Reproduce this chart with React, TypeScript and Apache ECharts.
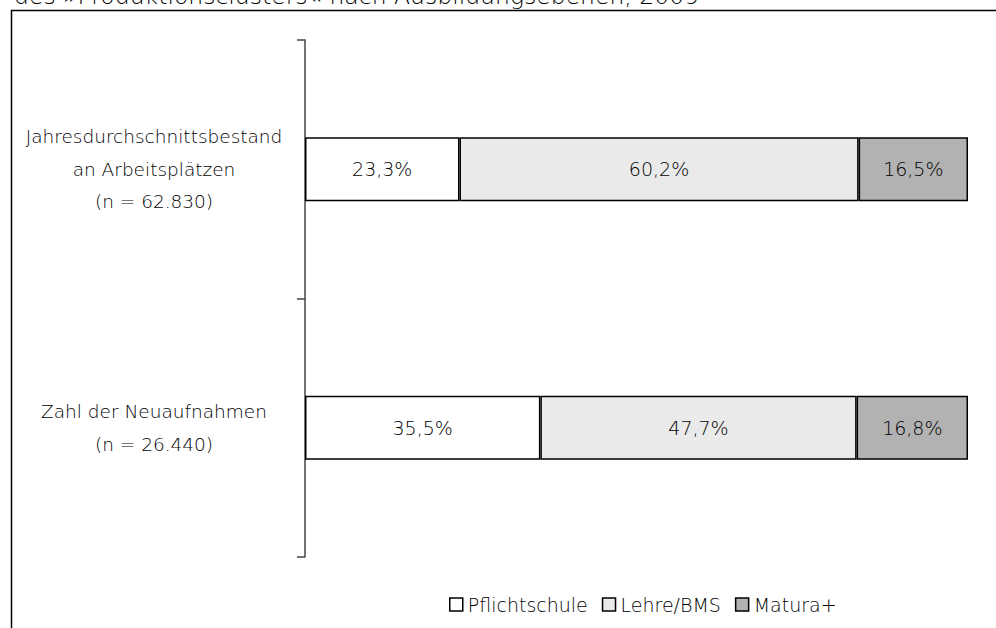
import React, { useEffect, useRef } from "react";
import * as echarts from "echarts";

const categories = [
  "Jahresdurchschnittsbestand\nan Arbeitsplätzen\n(n = 62.830)",
  "Zahl der Neuaufnahmen\n(n = 26.440)",
];
const seriesNames = ["Pflichtschule", "Lehre/BMS", "Matura+"];
const pflichtschule = [23.3, 35.5];
const lehreBms = [60.2, 47.7];
const matura = [16.5, 16.8];
const colors = ["#ffffff", "#eaeaea", "#b2b2b2"];
const titleText = "des »Produktionsclusters« nach Ausbildungsebenen, 2009";

const FONT = "'DejaVu Sans', sans-serif";
const W = 200;
const TXT = "#000";

export default function App() {
  const ref = useRef<HTMLDivElement>(null);
  useEffect(() => {
    if (!ref.current) return;
    const chart = echarts.init(ref.current, undefined, { renderer: "svg" });
    const values = [pflichtschule, lehreBms, matura];
    const fmt = (p: any) => p.value.toFixed(1).replace(".", ",") + "%";
    chart.setOption({
      animation: false,
      textStyle: { fontFamily: FONT, fontWeight: W },
      grid: { left: 305, right: 28, top: 40, bottom: 71, containLabel: false },
      xAxis: { type: "value", min: 0, max: 100, show: false },
      yAxis: {
        type: "category",
        inverse: true,
        data: categories,
        axisLine: { show: true, lineStyle: { color: "#444", width: 1.5 } },
        axisTick: { show: true, length: 8, lineStyle: { color: "#444", width: 1.5 } },
        axisLabel: {
          margin: 151,
          align: "center",
          color: TXT,
          fontSize: 18.5,
          lineHeight: 32.5,
          fontFamily: FONT,
          fontWeight: W,
        },
        splitLine: { show: false },
      },
      legend: {
        left: 449,
        top: 595,
        padding: 0,
        icon: "rect",
        itemWidth: 13,
        itemHeight: 13,
        itemGap: 14,
        textStyle: { fontSize: 19, color: TXT, fontFamily: FONT, fontWeight: W },
        itemStyle: { borderColor: "#000", borderWidth: 1.5 },
        data: seriesNames,
      },
      series: seriesNames.map((name, i) => ({
        name,
        type: "bar",
        stack: "total",
        barWidth: 64,
        data: values[i],
        itemStyle: { color: colors[i], borderColor: "#000", borderWidth: 1.5 },
        label: {
          show: true,
          position: "inside",
          formatter: fmt,
          color: TXT,
          fontSize: 19,
          fontFamily: FONT,
          fontWeight: W,
        },
      })),
      graphic: [
        {
          type: "rect",
          shape: { x: 11.5, y: 10.5, width: 1100, height: 800 },
          style: { fill: "none", stroke: "#000", lineWidth: 1.5 },
          silent: true,
        },
        {
          type: "text",
          x: 14,
          y: -16,
          style: {
            text: titleText,
            fontSize: 23.5,
            fontFamily: FONT,
            fontWeight: W,
            fill: TXT,
          },
        },
      ],
    });
    return () => chart.dispose();
  }, []);
  return (
    <div
      ref={ref}
      style={{ position: "fixed", left: 0, top: 0, width: 996, height: 628, background: "#fff" }}
    />
  );
}
